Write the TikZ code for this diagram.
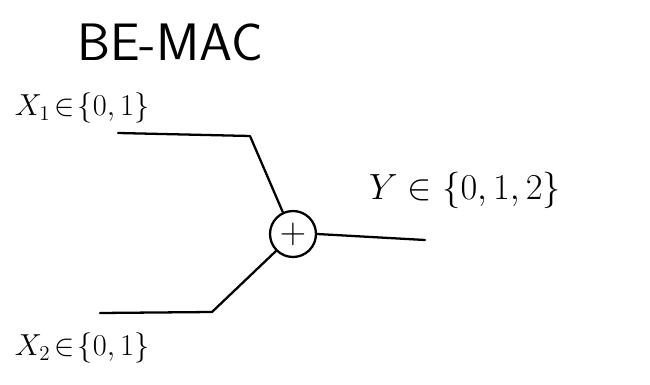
\documentclass[tikz,border=0pt]{standalone}
\usepackage{amsmath, amssymb}
\usetikzlibrary{positioning, calc}

\begin{document}
\begin{tikzpicture}[
      x=0.02cm, y=-0.02cm,
      wire/.style={line width=1.3pt, line cap=round, line join=round},
      adder/.style={draw, circle, line width=1.3pt, minimum size=0.92cm,
                    inner sep=0pt, font=\huge},
      lbl/.style={font=\LARGE}
    ]
    \useasboundingbox (0,0) rectangle (650,385);
    % titel
    \node[font=\fontsize{30}{32}\selectfont\sffamily] (title) at (170,42) {BE-MAC};
    % addierer
    \node[adder] (add) at (293,234) {$+$};
    % eingaenge
    \node[lbl] (x1) at (82,108) {$X_1\!\in\!\{0,1\}$};
    \node[lbl] (x2) at (82,348) {$X_2\!\in\!\{0,1\}$};
    \node[font=\huge] (y) at (465,190) {$Y\in\{0,1,2\}$};
    \coordinate (x1s) at (118,133);
    \coordinate (x1k) at (250,136);
    \coordinate (x2s) at (100,313);
    \coordinate (x2k) at (212,312);
    \coordinate (ye) at (425,240);
    \draw[wire] (x1s) -- (x1k) -- (add.115);
    \draw[wire] (x2s) -- (x2k) -- (add.south west);
    \draw[wire] (add.east) -- (ye);
  \end{tikzpicture}
\end{document}
